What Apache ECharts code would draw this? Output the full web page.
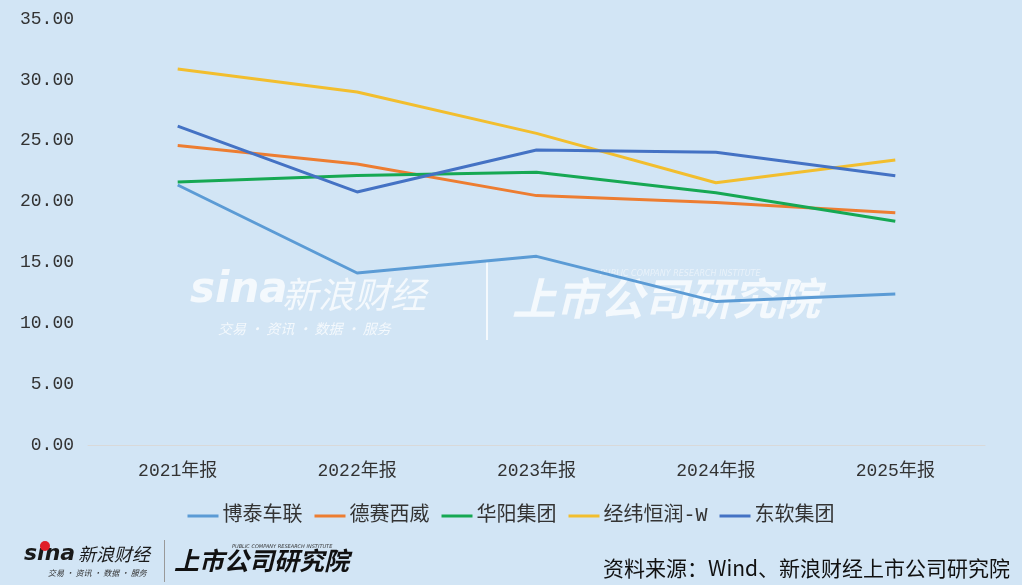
<!DOCTYPE html>
<html>
<head>
<meta charset="utf-8">
<script src="https://cdn.jsdelivr.net/npm/echarts@6/dist/echarts.min.js"></script>
<style>
html,body{margin:0;padding:0;background:#D2E5F5;}
#c{width:1022px;height:585px;}
</style>
</head>
<body>
<div id="c"></div>
<script>
var categories = ['2021年报', '2022年报', '2023年报', '2024年报', '2025年报'];
var seriesNames = ['博泰车联', '德赛西威', '华阳集团', '经纬恒润-W', '东软集团'];
var botai = [21.36, 14.13, 15.50, 11.80, 12.40];
var desay = [24.60, 23.09, 20.49, 19.92, 19.09];
var huayang = [21.60, 22.14, 22.40, 20.73, 18.38];
var jingwei = [30.90, 29.00, 25.60, 21.55, 23.42];
var neusoft = [26.20, 20.79, 24.24, 24.05, 22.13];
var yTicks = [0, 5, 10, 15, 20, 25, 30, 35];
var colors = ['#5B9BD5', '#ED7D31', '#16A853', '#F2BE2E', '#4472C4'];
var seriesValues = [botai, desay, huayang, jingwei, neusoft];

var labelFont = '"Liberation Mono", "Noto Sans CJK SC", monospace';
var chart = echarts.init(document.getElementById('c'));
var wmColor = 'rgba(255,255,255,0.75)';
chart.setOption({
  backgroundColor: '#D2E5F5',
  animation: false,
  grid: {left: 88, right: 37, top: 19, bottom: 140, containLabel: false},
  legend: {
    data: seriesNames,
    bottom: 54,
    left: 'center',
    itemWidth: 31,
    itemHeight: 3,
    itemGap: 12,
    icon: 'rect',
    textStyle: {fontSize: 20, color: '#333', fontFamily: labelFont, padding: [0, 0, 0, -1]}
  },
  xAxis: {
    type: 'category',
    data: categories,
    boundaryGap: true,
    axisLine: {show: true, lineStyle: {color: '#D9D9D9', width: 1}},
    axisTick: {show: false},
    axisLabel: {fontSize: 18, color: '#333', margin: 17, fontFamily: labelFont}
  },
  yAxis: {
    type: 'value',
    min: yTicks[0],
    max: yTicks[yTicks.length - 1],
    interval: 5,
    splitLine: {show: false},
    axisLine: {show: false},
    axisTick: {show: false},
    axisLabel: {
      fontSize: 18, color: '#333', margin: 14, fontFamily: labelFont,
      formatter: function (v) { return v.toFixed(2); }
    }
  },
  graphic: [
    {type: 'text', z: 0, left: 190, top: 270, style: {text: 'sina', fill: wmColor, font: 'italic bold 42px "DejaVu Sans", sans-serif'}},
    {type: 'text', z: 0, left: 282, top: 276, style: {text: '新浪财经', fill: wmColor, font: 'italic 36px "Noto Sans CJK SC", sans-serif'}},
    {type: 'text', z: 0, left: 218, top: 322, style: {text: '交易 · 资讯 · 数据 · 服务', fill: wmColor, font: 'italic 14px "Noto Sans CJK SC", sans-serif'}},
    {type: 'rect', z: 0, shape: {x: 486, y: 262, width: 2, height: 78}, style: {fill: wmColor}},
    {type: 'text', z: 0, left: 512, top: 276, style: {text: '上市公司研究院', fill: wmColor, font: 'italic bold 44px "Noto Sans CJK SC", sans-serif'}},
    {type: 'text', z: 0, left: 600, top: 270, style: {text: 'PUBLIC COMPANY RESEARCH INSTITUTE', fill: 'rgba(255,255,255,0.5)', font: 'italic 8px "DejaVu Sans", sans-serif'}},

    {type: 'text', left: 24, top: 543, style: {text: 'sina', fill: '#1a1a1a', font: 'italic bold 22px "DejaVu Sans", sans-serif'}},
    {type: 'circle', shape: {cx: 45, cy: 546, r: 5}, style: {fill: '#E0202A'}},
    {type: 'text', left: 78, top: 545, style: {text: '新浪财经', fill: '#1a1a1a', font: 'italic 18px "Noto Sans CJK SC", sans-serif'}},
    {type: 'text', left: 48, top: 569, style: {text: '交易 · 资讯 · 数据 · 服务', fill: '#333', font: 'italic 8px "Noto Sans CJK SC", sans-serif'}},
    {type: 'rect', shape: {x: 164, y: 540, width: 1, height: 42}, style: {fill: '#999'}},
    {type: 'text', left: 174, top: 548, style: {text: '上市公司研究院', fill: '#111', font: 'italic bold 25px "Noto Sans CJK SC", sans-serif'}},
    {type: 'text', left: 232, top: 544, style: {text: 'PUBLIC COMPANY RESEARCH INSTITUTE', fill: '#333', font: 'italic 5px "DejaVu Sans", sans-serif'}},
    {type: 'text', right: 12, top: 558, style: {text: '资料来源：Wind、新浪财经上市公司研究院', fill: '#111', font: '21px "Noto Sans CJK SC", sans-serif'}}
  ],
  series: seriesNames.map(function (n, i) {
    return {
      name: n,
      type: 'line',
      data: seriesValues[i],
      symbol: 'none',
      z: 5,
      lineStyle: {width: 3, color: colors[i]},
      itemStyle: {color: colors[i]}
    };
  })
});
</script>
</body>
</html>
